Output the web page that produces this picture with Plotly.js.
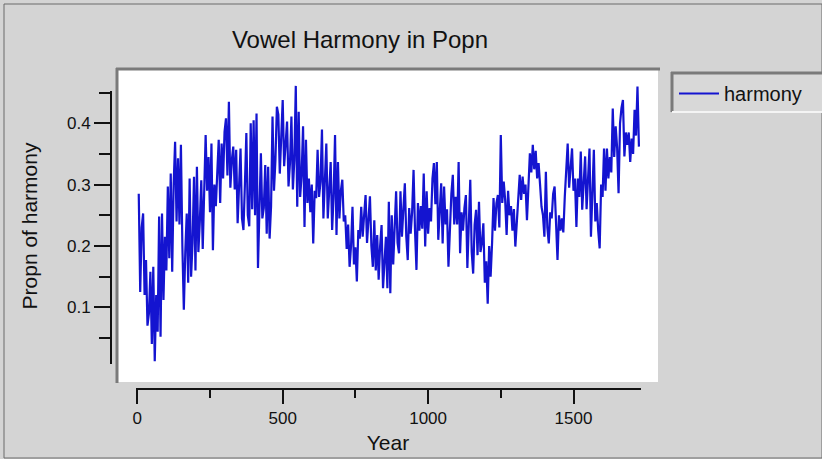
<!DOCTYPE html>
<html>
<head>
<meta charset="utf-8">
<script src="https://cdn.plot.ly/plotly-3.0.1.min.js"></script>
<style>
html,body{margin:0;padding:0;background:#d4d4d4;}
#chart{width:822px;height:459px;}
</style>
</head>
<body>
<div id="chart"></div>
<script>
// ---- data ----
const chartTitle = "Vowel Harmony in Popn";
const xTitle = "Year";
const yTitle = "Propn of harmony";
const seriesName = "harmony";
const firstYear = 5;
const yearStep = 5;
const harmony = [
  // 5-50
  0.285,0.125,0.230,0.253,0.120,0.177,0.070,0.090,0.158,0.040,
  // 55-100
  0.166,0.012,0.120,0.060,0.248,0.052,0.253,0.112,0.215,0.160,
  // 105-150
  0.297,0.180,0.318,0.158,0.300,0.370,0.240,0.343,0.235,0.365,
  // 155-200
  0.200,0.096,0.190,0.253,0.140,0.310,0.150,0.205,0.313,0.160,
  // 205-250
  0.329,0.190,0.240,0.307,0.195,0.270,0.381,0.290,0.345,0.255,
  // 255-300
  0.367,0.193,0.300,0.265,0.318,0.373,0.270,0.367,0.310,0.386,
  // 305-350
  0.408,0.315,0.435,0.295,0.340,0.362,0.292,0.357,0.237,0.300,
  // 355-400
  0.359,0.245,0.226,0.300,0.384,0.250,0.232,0.400,0.260,0.405,
  // 405-450
  0.250,0.416,0.164,0.260,0.351,0.245,0.262,0.332,0.220,0.329,
  // 455-500
  0.212,0.265,0.411,0.290,0.340,0.427,0.414,0.318,0.370,0.438,
  // 505-550
  0.330,0.365,0.403,0.297,0.335,0.411,0.292,0.340,0.461,0.264,
  // 555-600
  0.419,0.280,0.315,0.395,0.231,0.373,0.270,0.310,0.255,0.300,
  // 605-650
  0.204,0.290,0.278,0.357,0.280,0.305,0.390,0.245,0.295,0.367,
  // 655-700
  0.245,0.285,0.337,0.226,0.280,0.381,0.218,0.337,0.245,0.290,
  // 705-750
  0.308,0.240,0.250,0.195,0.235,0.166,0.200,0.264,0.170,0.198,
  // 755-800
  0.142,0.226,0.212,0.264,0.215,0.250,0.283,0.205,0.240,0.281,
  // 805-850
  0.200,0.166,0.242,0.160,0.218,0.145,0.200,0.234,0.131,0.180,
  // 855-900
  0.215,0.131,0.272,0.123,0.250,0.170,0.240,0.289,0.205,0.188,
  // 905-950
  0.289,0.215,0.260,0.302,0.215,0.177,0.262,0.220,0.255,0.324,
  // 955-1000
  0.225,0.161,0.270,0.225,0.265,0.228,0.318,0.199,0.289,0.220,
  // 1005-1050
  0.262,0.240,0.310,0.335,0.268,0.337,0.210,0.270,0.302,0.204,
  // 1055-1100
  0.297,0.235,0.260,0.166,0.240,0.285,0.316,0.235,0.280,0.235,
  // 1105-1150
  0.337,0.188,0.255,0.225,0.262,0.283,0.164,0.240,0.308,0.190,
  // 1155-1200
  0.155,0.235,0.259,0.185,0.272,0.190,0.205,0.237,0.140,0.175,
  // 1205-1250
  0.106,0.200,0.150,0.205,0.278,0.225,0.270,0.283,0.230,0.381,
  // 1255-1300
  0.270,0.305,0.275,0.218,0.290,0.250,0.265,0.225,0.260,0.199,
  // 1305-1350
  0.240,0.295,0.316,0.275,0.313,0.285,0.300,0.242,0.300,0.351,
  // 1355-1400
  0.320,0.365,0.325,0.355,0.310,0.335,0.300,0.264,0.250,0.215,
  // 1405-1450
  0.321,0.230,0.204,0.255,0.245,0.285,0.297,0.245,0.177,0.250,
  // 1455-1500
  0.225,0.245,0.222,0.280,0.315,0.367,0.295,0.325,0.359,0.290,
  // 1505-1550
  0.310,0.231,0.310,0.280,0.354,0.259,0.300,0.346,0.260,0.300,
  // 1555-1600
  0.359,0.215,0.290,0.357,0.240,0.270,0.225,0.196,0.300,0.280,
  // 1605-1650
  0.359,0.290,0.359,0.310,0.345,0.320,0.424,0.345,0.395,0.360,
  // 1655-1700
  0.286,0.400,0.425,0.438,0.346,0.385,0.365,0.385,0.337,0.375,
  // 1705-1725
  0.350,0.422,0.380,0.460,0.362
];
const years = harmony.map((_, i) => firstYear + i * yearStep);

const xMajorTicks = [0, 500, 1000, 1500];
const xMinorTicks = [250, 750, 1250];
const yMajorTicks = [0.1, 0.2, 0.3, 0.4];
const yMinorTicks = [0.05, 0.15, 0.25, 0.35, 0.45];

// ---- layout helpers (pixel -> paper fraction) ----
const W = 822, H = 459;
const px = x => x / W;
const py = y => 1 - y / H;

const FONT = "'Liberation Sans', Arial, sans-serif";
const INK = "#111111";
const BG = "#d4d4d4";

const trace = {
  x: years, y: harmony, type: "scatter", mode: "lines",
  name: seriesName,
  line: { color: "#1414d0", width: 2.2 }
};

const shapes = [
  // outer frame
  { type: "rect", xref: "paper", yref: "paper", x0: px(4), x1: px(822), y0: py(458), y1: py(4),
    line: { color: "#6a6a6a", width: 1 }, fillcolor: "rgba(0,0,0,0)", layer: "below" },
  // plot-area bevel: top and left dark
  { type: "line", xref: "paper", yref: "paper", x0: px(116), x1: px(660), y0: py(69), y1: py(69),
    line: { color: "#7a7a7a", width: 3 } },
  { type: "line", xref: "paper", yref: "paper", x0: px(117), x1: px(117), y0: py(68), y1: py(383),
    line: { color: "#7a7a7a", width: 3 } },
  // y axis line
  { type: "line", xref: "paper", yref: "paper", x0: px(111), x1: px(111), y0: py(91), y1: py(364),
    line: { color: INK, width: 2 } },
  // x axis line
  { type: "line", xref: "paper", yref: "paper", x0: px(136), x1: px(641), y0: py(389), y1: py(389),
    line: { color: INK, width: 2 } },
  // legend box bevel
  { type: "rect", xref: "paper", yref: "paper", x0: px(672), x1: px(830), y0: py(112), y1: py(73),
    line: { width: 0 }, fillcolor: "#d8d8d8", layer: "below" },
  { type: "line", xref: "paper", yref: "paper", x0: px(671), x1: px(822), y0: py(73), y1: py(73),
    line: { color: "#7a7a7a", width: 3 } },
  { type: "line", xref: "paper", yref: "paper", x0: px(672), x1: px(672), y0: py(72), y1: py(112),
    line: { color: "#7a7a7a", width: 3 } },
  { type: "line", xref: "paper", yref: "paper", x0: px(672), x1: px(822), y0: py(112), y1: py(112),
    line: { color: "#f4f4f4", width: 2 } }
];

const layout = {
  width: W, height: H,
  margin: { l: 0, r: 0, t: 0, b: 0 },
  paper_bgcolor: BG,
  plot_bgcolor: "#ffffff",
  font: { family: FONT, color: INK, size: 17 },
  title: {
    text: chartTitle, xref: "paper", yref: "paper",
    x: px(360), xanchor: "center", y: py(40), yanchor: "middle",
    font: { family: FONT, size: 24, color: INK }
  },
  showlegend: true,
  legend: {
    x: px(674), y: py(74), xanchor: "left", yanchor: "top",
    bgcolor: "rgba(0,0,0,0)", borderwidth: 0, itemwidth: 40,
    font: { family: FONT, size: 20, color: INK }
  },
  xaxis: {
    domain: [px(118), px(658)],
    range: [(118 - 137.3) / 0.2908, (658 - 137.3) / 0.2908],
    anchor: "free", position: py(389),
    showgrid: false, zeroline: false, showline: false,
    tickmode: "array", tickvals: xMajorTicks,
    ticks: "outside", ticklen: 14, tickwidth: 2, tickcolor: INK,
    minor: { tickmode: "array", tickvals: xMinorTicks, ticks: "outside", ticklen: 8, tickwidth: 2, tickcolor: INK, showgrid: false },
    tickfont: { family: FONT, size: 17, color: INK },
    title: { text: xTitle, font: { family: FONT, size: 21, color: INK }, standoff: 7 }
  },
  yaxis: {
    domain: [py(382), py(70)],
    range: [0.4 - (382 - 123.3) / 613.3, 0.4 + (123.3 - 70) / 613.3],
    anchor: "free", position: px(111),
    showgrid: false, zeroline: false, showline: false,
    tickmode: "array", tickvals: yMajorTicks, tickformat: ".1f",
    ticks: "outside", ticklen: 17, tickwidth: 2, tickcolor: INK,
    minor: { tickmode: "array", tickvals: yMinorTicks, ticks: "outside", ticklen: 12, tickwidth: 2, tickcolor: INK, showgrid: false },
    tickfont: { family: FONT, size: 17, color: INK },
    title: { text: yTitle, font: { family: FONT, size: 21, color: INK }, standoff: 22 }
  },
  shapes: shapes
};

Plotly.newPlot("chart", [trace], layout, { staticPlot: true, displayModeBar: false });
</script>
</body>
</html>
